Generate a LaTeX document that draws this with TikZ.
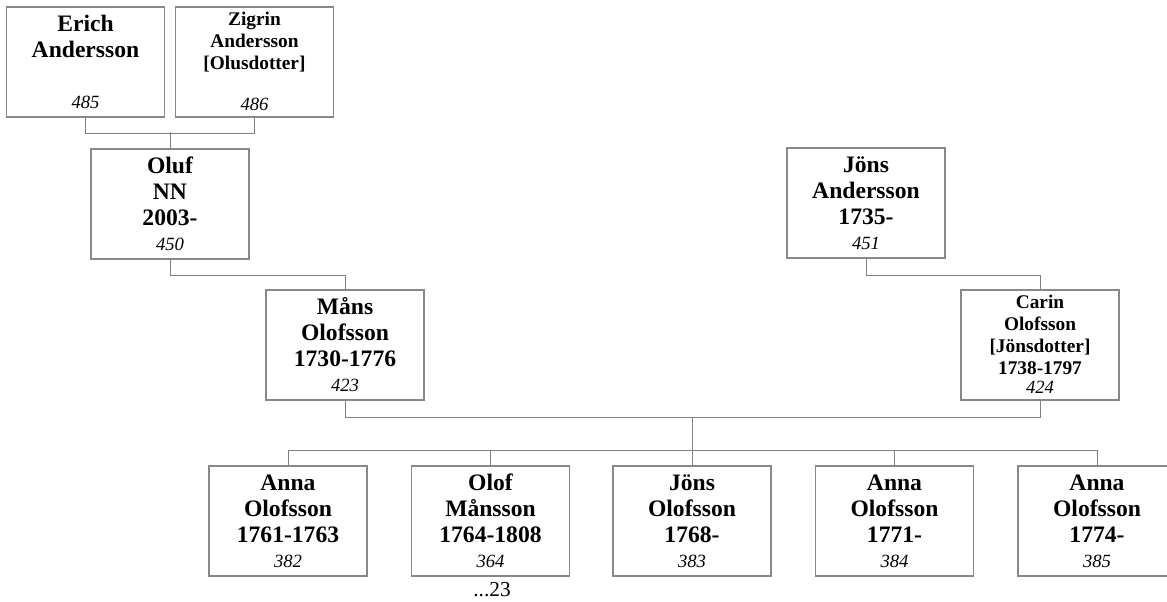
\documentclass[tikz,border=0pt]{standalone}
\usepackage{fontspec}
\setmainfont{Liberation Serif}
\usepackage{tikz}
\usetikzlibrary{positioning,calc}
\definecolor{linegray}{RGB}{128,128,128}
\definecolor{boxgray}{RGB}{136,136,136}
% one card per person: names, dates, then the number in italics
\newcommand{\pcard}[2]{\parbox[c][82.5pt][t]{118.5pt}{\centering\fontsize{17.7}{19.5}\selectfont\bfseries\rule{0pt}{18.5pt}#1\par\fontsize{14}{18.75}\selectfont\mdseries\itshape #2\par}}
\newcommand{\pcardsm}[2]{\parbox[c][82.5pt][t]{118.5pt}{\centering\fontsize{14.5}{16.5}\selectfont\bfseries\rule{0pt}{13.5pt}#1\par\fontsize{14}{14.25}\selectfont\mdseries\itshape #2\par}}
\tikzset{
  person/.style={draw=boxgray, line width=0.9pt, inner sep=0pt, fill=white},
  link/.style={draw=linegray, line width=0.75pt}
}
\begin{document}
\begin{tikzpicture}[x=0.75pt, y=-0.75pt]
  \useasboundingbox (0,0) rectangle (1167,601);
  % grandparents
  \node[person] (erich) at (85.5,62) {\pcard{Erich\\Andersson\\\mbox{}}{485}};
  \node[person] (zigrin) at (254.5,62) {\pcardsm{Zigrin\\Andersson\\{[Olusdotter]}\\\mbox{}}{486}};
  \node[person] (oluf) at (170,204) {\pcard{Oluf\\NN\\2003-}{450}};
  \node[person] (jonsa) at (866,203) {\pcard{Jöns\\Andersson\\1735-}{451}};
  % parents
  \node[person] (mans) at (345,345) {\pcard{Måns\\Olofsson\\1730-1776}{423}};
  \node[person] (carin) at (1040,345) {\pcardsm{Carin\\Olofsson\\{[Jönsdotter]}\\1738-1797}{424}};
  % children
  \node[person] (anna1) at (288,521) {\pcard{Anna\\Olofsson\\1761-1763}{382}};
  \node[person] (olof) at (490.5,521) {\pcard{Olof\\Månsson\\1764-1808}{364}};
  \node[person] (jonso) at (692,521) {\pcard{Jöns\\Olofsson\\1768-}{383}};
  \node[person] (anna2) at (894.5,521) {\pcard{Anna\\Olofsson\\1771-}{384}};
  \node[person] (anna3) at (1097,521) {\pcard{Anna\\Olofsson\\1774-}{385}};
  \node[anchor=base, font=\fontsize{16}{16}\selectfont] (olofmore) at (492,596) {...23};
  % family lines
  \draw[link] (erich.south) -- ++(0,16) -| (zigrin.south);
  \draw[link] (oluf.north) -- ++(0,-16);
  \draw[link] (oluf.south) -- ++(0,16) -| (mans.north);
  \draw[link] (jonsa.south) -- ++(0,17) -| (carin.north);
  \draw[link] (mans.south) -- ++(0,17) -| (carin.south);
  \coordinate (fam) at ($(mans.south)!0.5!(carin.south)+(0,17)$);
  \draw[link] (anna1.north) -- ++(0,-15) -| (anna3.north);
  \draw[link] (fam) -- ($(fam |- jonso.north)+(0,-15)$);
  \draw[link] (olof.north) -- ++(0,-15);
  \draw[link] (jonso.north) -- ++(0,-15);
  \draw[link] (anna2.north) -- ++(0,-15);
\end{tikzpicture}
\end{document}
